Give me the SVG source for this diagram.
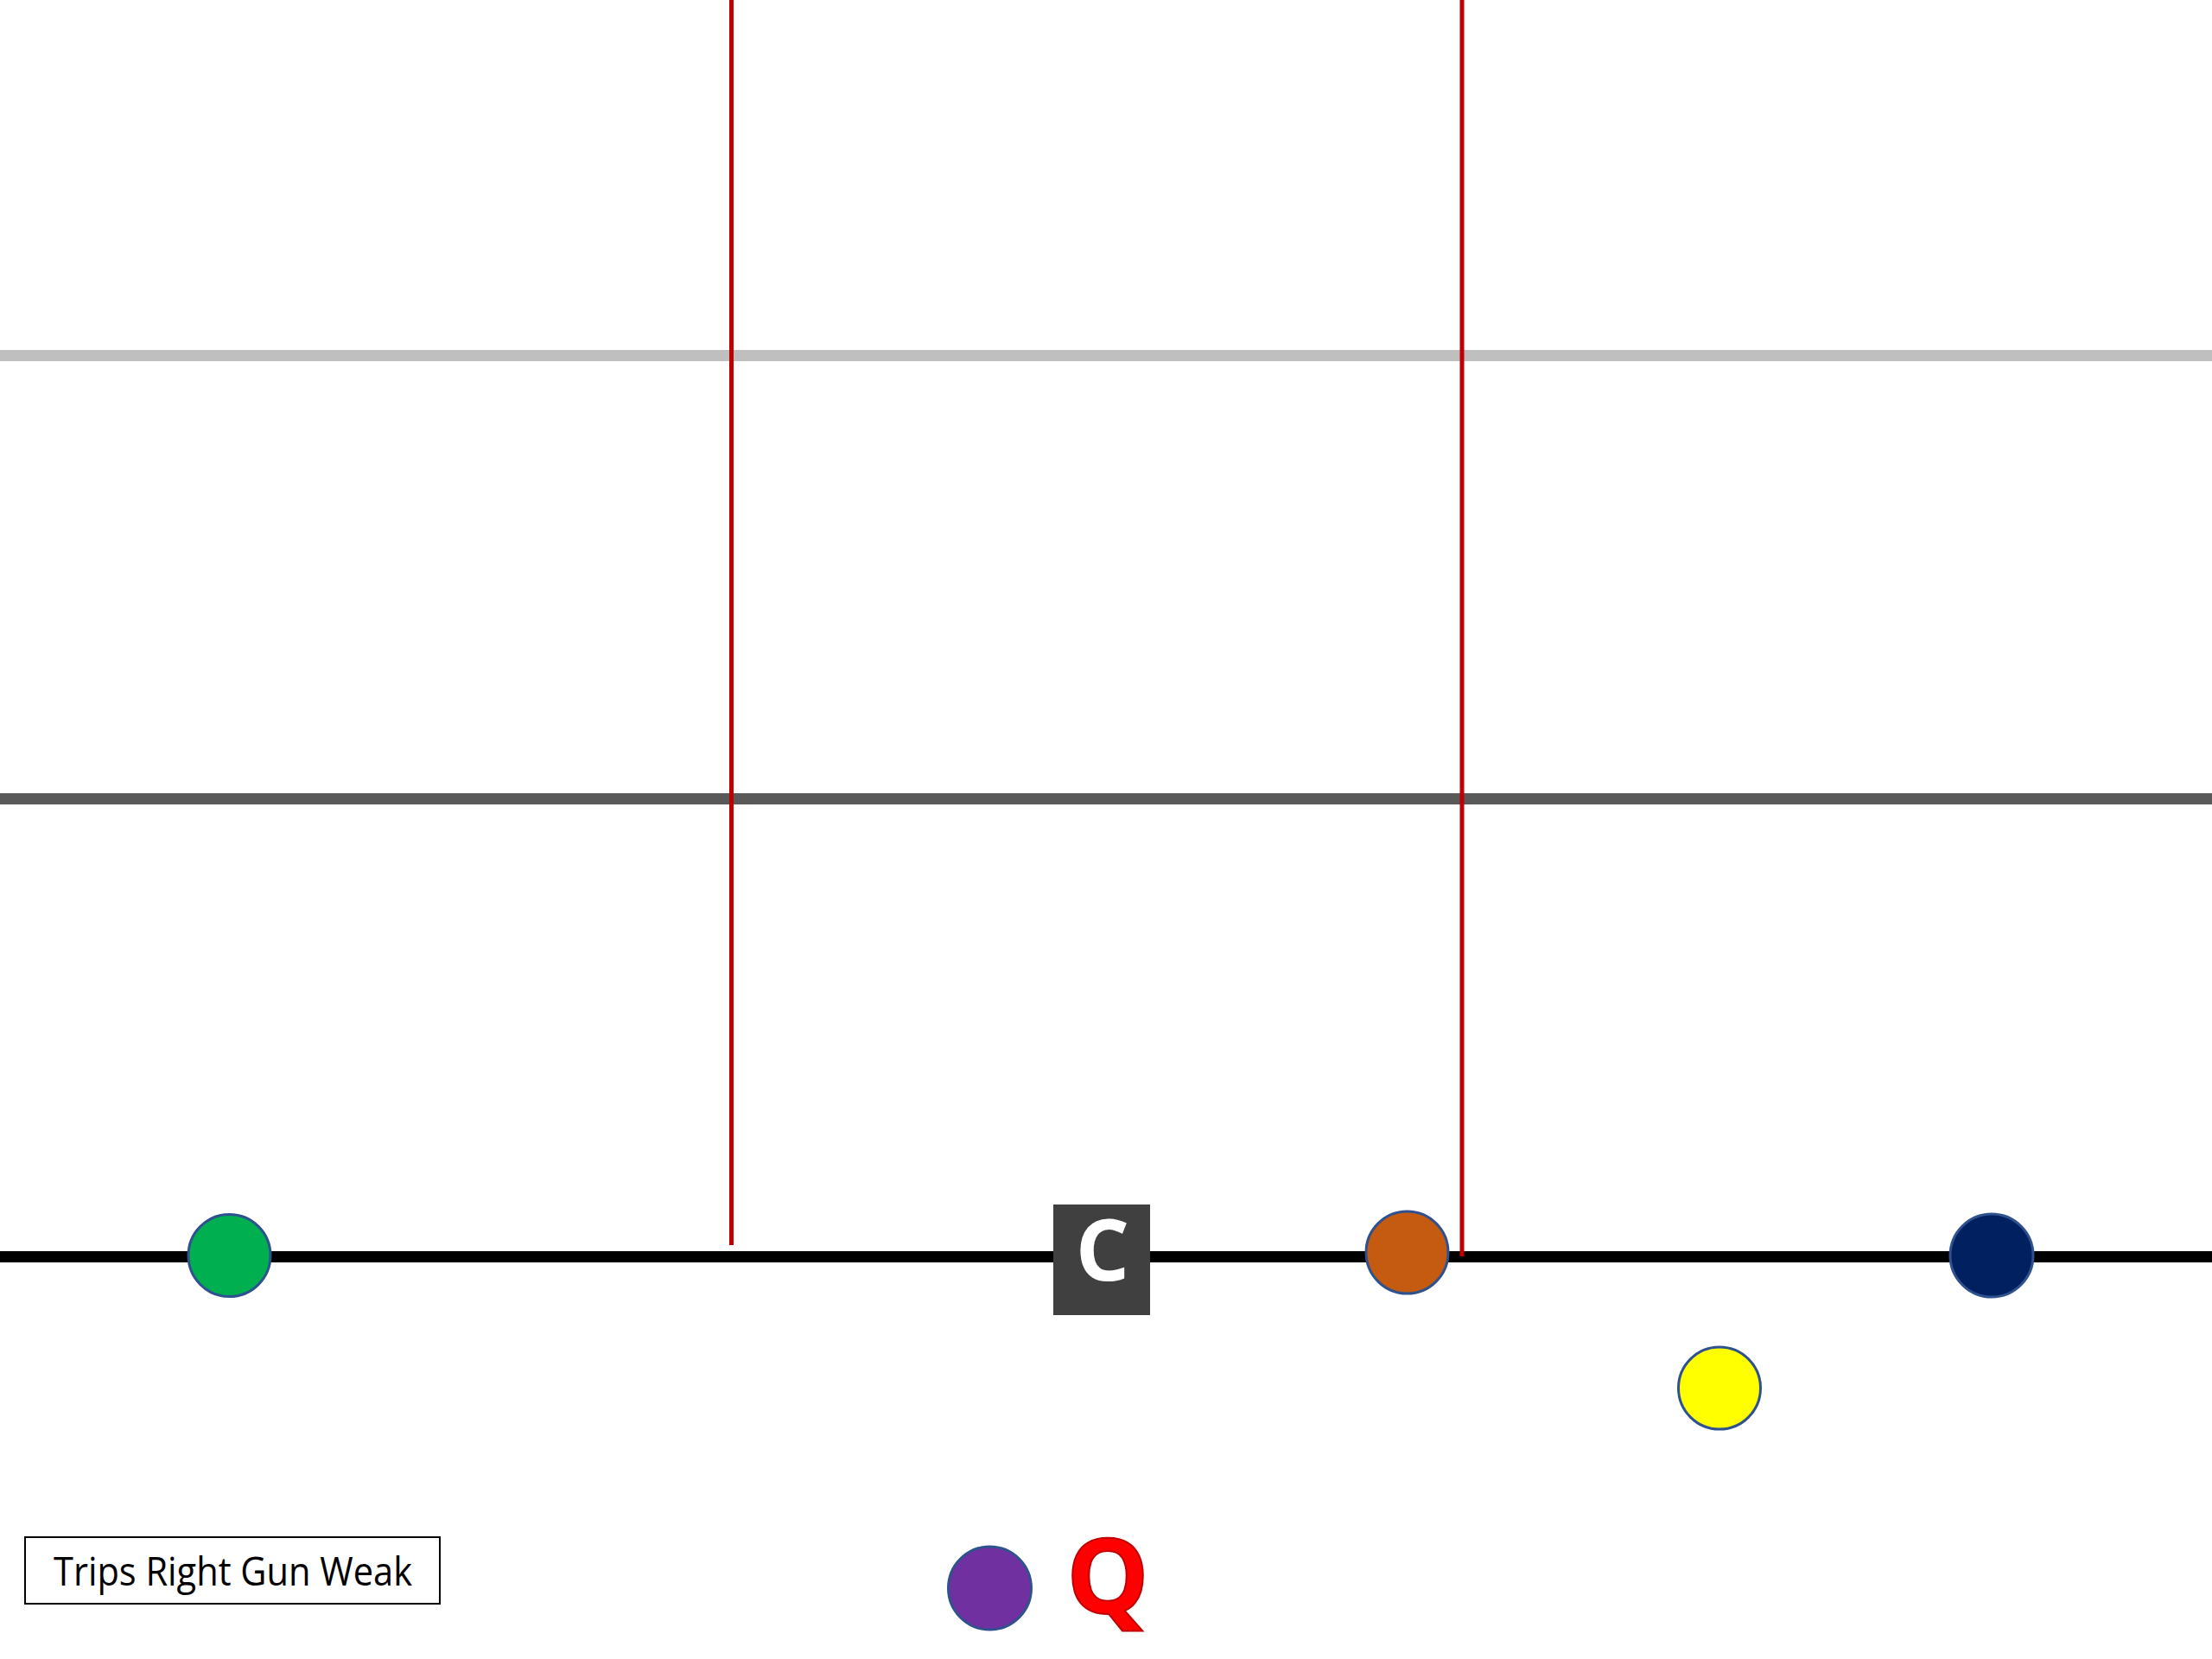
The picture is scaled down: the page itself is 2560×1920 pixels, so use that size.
<svg xmlns="http://www.w3.org/2000/svg" width="2560" height="1920" viewBox="0 0 2560 1920">
<style>
.player{stroke:#2F528F;stroke-width:3}
.red{stroke:#C00000;stroke-width:5}
</style>
<rect width="2560" height="1920" fill="#ffffff"/>
<g id="field-lines">
<line x1="0" y1="411.5" x2="2560" y2="411.5" stroke="#BFBFBF" stroke-width="13"/>
<line x1="0" y1="924.5" x2="2560" y2="924.5" stroke="#595959" stroke-width="13"/>
<line x1="0" y1="1454.5" x2="2560" y2="1454.5" stroke="#000000" stroke-width="13"/>
</g>
<g id="connectors">
<line class="red" x1="846.5" y1="0" x2="846.5" y2="1441"/>
<line class="red" x1="1692" y1="0" x2="1692" y2="1454"/>
</g>
<g id="center">
<rect x="1219" y="1394" width="112" height="128" fill="#404040"/>
<text x="1276" y="1482" text-anchor="middle" font-family="'Open Sans', 'DejaVu Sans', sans-serif" font-weight="bold" font-size="98" fill="#ffffff">C</text>
</g>
<g id="player-green"><circle class="player" cx="265.5" cy="1453" r="47.5" fill="#00B050"/></g>
<g id="player-orange"><circle class="player" cx="1628.5" cy="1449.5" r="47.5" fill="#C55A11"/></g>
<g id="player-navy"><circle class="player" cx="2305" cy="1453" r="48" fill="#002060"/></g>
<g id="player-yellow"><circle class="player" cx="1990" cy="1606.5" r="47.5" fill="#FFFF00"/></g>
<g id="player-purple"><circle class="player" cx="1145.5" cy="1838" r="48" fill="#7030A0"/></g>
<g id="qb">
<text x="1282" y="1867" text-anchor="middle" font-family="'Open Sans', 'DejaVu Sans', sans-serif" font-weight="bold" font-size="120" fill="#FF0000" stroke="#C00000" stroke-width="2">Q</text>
</g>
<g id="label">
<rect x="29" y="1779" width="480" height="77" fill="#ffffff" stroke="#000000" stroke-width="2"/>
<text x="269.5" y="1835" text-anchor="middle" font-family="'Open Sans', 'DejaVu Sans', sans-serif" font-size="46" fill="#000000" textLength="415" lengthAdjust="spacingAndGlyphs">Trips Right Gun Weak</text>
</g>
</svg>
